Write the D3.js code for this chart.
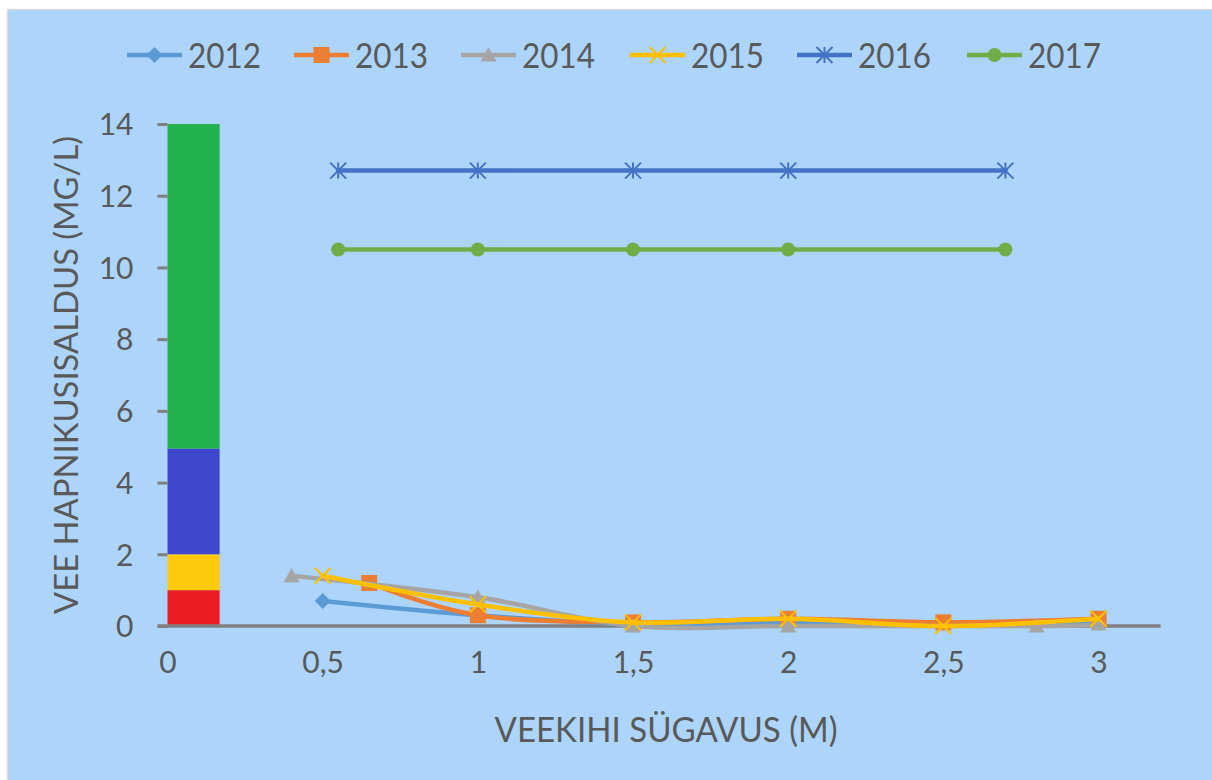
<!DOCTYPE html>
<html><head><meta charset="utf-8">
<script src="https://cdn.jsdelivr.net/npm/d3@7"></script>
<style>html,body{margin:0;padding:0;background:#fff;}svg{display:block;}</style>
</head><body>
<svg id="chart" width="1212" height="780"></svg>
<script>
// ---- data ----
const seriesNames = ["2012", "2013", "2014", "2015", "2016", "2017"];
const depths2012 = [0.5, 1, 1.5, 2, 2.5, 3];
const values2012 = [0.7, 0.3, 0.05, 0.1, 0.1, 0.1];
const depths2013 = [0.65, 1, 1.5, 2, 2.5, 3];
const values2013 = [1.2, 0.3, 0.1, 0.2, 0.1, 0.2];
const depths2014 = [0.4, 1, 1.5, 2, 2.8, 3];
const values2014 = [1.4, 0.8, 0.0, 0.0, 0.0, 0.05];
const depths2015 = [0.5, 1, 1.5, 2, 2.5, 3];
const values2015 = [1.4, 0.6, 0.1, 0.2, 0.0, 0.2];
const depths2016 = [0.55, 1, 1.5, 2, 2.7];
const values2016 = [12.7, 12.7, 12.7, 12.7, 12.7];
const depths2017 = [0.55, 1, 1.5, 2, 2.7];
const values2017 = [10.5, 10.5, 10.5, 10.5, 10.5];
// colour scale bar (stacked bands)
const bandBreaks = [0, 1, 2, 4.95, 14];
const bandColors = ["#ED1C24", "#FFC90E", "#3F48CC", "#22B14C"];
const bandDepth = [0, 0.168];
const yTicks = [0, 2, 4, 6, 8, 10, 12, 14];
const xTicks = [0, 0.5, 1, 1.5, 2, 2.5, 3];
const xTickLabels = ["0", "0,5", "1", "1,5", "2", "2,5", "3"];
const xTitle = "VEEKIHI SÜGAVUS (M)";
const yTitle = "VEE HAPNIKUSISALDUS (MG/L)";

const colors = ["#5B9BD5", "#ED7D31", "#A5A5A5", "#FFC000", "#4472C4", "#70AD47"];
const markers = ["diamond", "square", "triangle", "x", "asterisk", "circle"];
const series = [
  [depths2012, values2012], [depths2013, values2013], [depths2014, values2014],
  [depths2015, values2015], [depths2016, values2016], [depths2017, values2017]
].map((d, i) => ({name: seriesNames[i], color: colors[i], marker: markers[i],
  pts: d[0].map((x, j) => ({x, y: d[1][j]}))}));

// ---- layout ----
const svg = d3.select("#chart");
const font = "Lato, 'Open Sans', sans-serif";
const textColor = "#595959";
const axisColor = "#7F7F7F";

svg.append("rect").attr("x", 7.5).attr("y", 9.5).attr("width", 1220).attr("height", 790)
  .attr("fill", "#ADD5FC").attr("stroke", "#D9D9D9").attr("stroke-width", 1.5);

const x = d3.scaleLinear().domain([0, 3.2]).range([167.5, 1160.6]);
const y = d3.scaleLinear().domain([0, 14]).range([626, 124]);

// stacked band bar
const bands = bandColors.map((c, i) => ({c, lo: bandBreaks[i], hi: bandBreaks[i + 1]}));
svg.append("g").selectAll("rect").data(bands).join("rect")
  .attr("x", x(bandDepth[0])).attr("width", x(bandDepth[1]) - x(bandDepth[0]))
  .attr("y", d => y(d.hi)).attr("height", d => y(d.lo) - y(d.hi))
  .attr("fill", d => d.c);

// y axis (ticks only, no line)
const yAxis = d3.axisLeft(y).tickValues(yTicks).tickSize(10).tickPadding(24).tickFormat(d3.format("d"));
const gy = svg.append("g").attr("transform", `translate(${x(0)},0)`).call(yAxis);
gy.select(".domain").remove();
gy.selectAll(".tick line").attr("stroke", axisColor).attr("stroke-width", 3);
gy.selectAll(".tick text").attr("fill", textColor).attr("font-family", font)
  .attr("font-size", 30).attr("dy", "0.36em");

// x axis (line, no ticks)
const xAxis = d3.axisBottom(x).tickValues(xTicks).tickSize(0).tickPadding(38)
  .tickFormat((d, i) => xTickLabels[i]);
const gx = svg.append("g").attr("transform", `translate(0,${y(0)})`).call(xAxis);
gx.select(".domain").attr("stroke", axisColor).attr("stroke-width", 3.5)
  .attr("d", `M${x(0) - 10},0H${x(3.2)}`);
gx.selectAll(".tick text").attr("fill", textColor).attr("font-family", font)
  .attr("font-size", 30).attr("dy", "0.3em");

// axis titles
svg.append("text").attr("x", 666).attr("y", 742).attr("text-anchor", "middle")
  .attr("fill", textColor).attr("font-family", font).attr("font-size", 34)
  .attr("textLength", 343).attr("lengthAdjust", "spacingAndGlyphs").text(xTitle);
svg.append("text").attr("transform", "translate(78,375) rotate(-90)").attr("text-anchor", "middle")
  .attr("fill", textColor).attr("font-family", font).attr("font-size", 33)
  .attr("textLength", 478).attr("lengthAdjust", "spacingAndGlyphs").text(yTitle);

// marker drawing
function drawMarker(g, type, color, cx, cy) {
  const s = 8;
  if (type === "diamond") {
    g.append("path").attr("d", `M${cx},${cy - s}L${cx + s},${cy}L${cx},${cy + s}L${cx - s},${cy}Z`).attr("fill", color);
  } else if (type === "square") {
    g.append("rect").attr("x", cx - s).attr("y", cy - s).attr("width", 2 * s).attr("height", 2 * s).attr("fill", color);
  } else if (type === "triangle") {
    g.append("path").attr("d", `M${cx},${cy - s}L${cx + s},${cy + s * 0.8}L${cx - s},${cy + s * 0.8}Z`).attr("fill", color);
  } else if (type === "x") {
    g.append("path").attr("d", `M${cx - s},${cy - s}L${cx + s},${cy + s}M${cx + s},${cy - s}L${cx - s},${cy + s}`)
      .attr("stroke", color).attr("stroke-width", 2);
  } else if (type === "asterisk") {
    g.append("path").attr("d", `M${cx - s},${cy - s}L${cx + s},${cy + s}M${cx + s},${cy - s}L${cx - s},${cy + s}M${cx},${cy - s}L${cx},${cy + s}`)
      .attr("stroke", color).attr("stroke-width", 2);
  } else if (type === "circle") {
    g.append("circle").attr("cx", cx).attr("cy", cy).attr("r", 7).attr("fill", color);
  }
}

const line = d3.line().x(d => x(d.x)).y(d => y(d.y)).curve(d3.curveCatmullRom.alpha(0));
series.forEach(s => {
  const g = svg.append("g");
  g.append("path").attr("d", line(s.pts)).attr("fill", "none").attr("stroke", s.color)
    .attr("stroke-width", 4.5).attr("stroke-linejoin", "round").attr("stroke-linecap", "round");
  s.pts.forEach(p => drawMarker(g, s.marker, s.color, x(p.x), y(p.y)));
});

// legend
const legendX = [127, 294, 461, 630, 797, 967];
const legendTextW = [73, 73, 73, 73, 73, 73];
series.forEach((s, i) => {
  const g = svg.append("g");
  const lx = legendX[i];
  g.append("line").attr("x1", lx).attr("x2", lx + 55).attr("y1", 55).attr("y2", 55)
    .attr("stroke", s.color).attr("stroke-width", 4.5);
  drawMarker(g, s.marker, s.color, lx + 27.5, 55);
  g.append("text").attr("x", lx + 61).attr("y", 67.5).attr("fill", textColor)
    .attr("font-family", font).attr("font-size", 35)
    .attr("textLength", legendTextW[i]).attr("lengthAdjust", "spacingAndGlyphs").text(s.name);
});
</script>
</body></html>
